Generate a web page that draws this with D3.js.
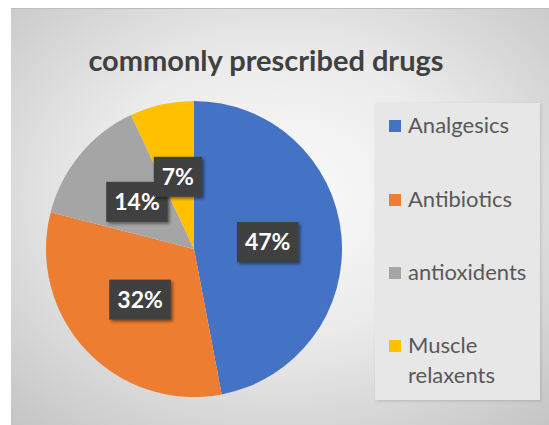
<!DOCTYPE html>
<html>
<head>
<meta charset="utf-8">
<script src="https://cdn.jsdelivr.net/npm/d3@7"></script>
<style>
  html, body { margin: 0; padding: 0; background: #ffffff; }
  svg { display: block; }
</style>
</head>
<body>
<svg id="chart" width="549" height="425"></svg>
<script>
// Share of commonly prescribed drug classes
const categories = ["Analgesics", "Antibiotics", "antioxidents", "Muscle relaxents"];
const shares = [47, 32, 14, 7];
const colors = ["#4472C4", "#ED7D31", "#A5A5A5", "#FFC000"];
const legendLines = [["Analgesics"], ["Antibiotics"], ["antioxidents"], ["Muscle", "relaxents"]];
const titleText = "commonly prescribed drugs";

const svg = d3.select("#chart");
const W = 549, H = 425;
const defs = svg.append("defs");

// Chart area background: soft radial grey gradient
const bg = defs.append("radialGradient").attr("id", "bgGrad")
  .attr("cx", "0.5").attr("cy", "0.45").attr("r", "0.75");
bg.append("stop").attr("offset", "0").attr("stop-color", "#fbfbfb");
bg.append("stop").attr("offset", "0.45").attr("stop-color", "#ebebeb");
bg.append("stop").attr("offset", "1").attr("stop-color", "#c4c4c4");

const shadow = defs.append("filter").attr("id", "lblShadow")
  .attr("x", "-30%").attr("y", "-30%").attr("width", "170%").attr("height", "170%");
shadow.append("feDropShadow").attr("dx", 2).attr("dy", 2).attr("stdDeviation", 1.8)
  .attr("flood-color", "#000").attr("flood-opacity", 0.45);

const boxShadow = defs.append("filter").attr("id", "boxShadow")
  .attr("x", "-10%").attr("y", "-10%").attr("width", "120%").attr("height", "120%");
boxShadow.append("feDropShadow").attr("dx", 1).attr("dy", 1).attr("stdDeviation", 1.5)
  .attr("flood-color", "#000").attr("flood-opacity", 0.15);

svg.append("rect").attr("x", 11).attr("y", 8).attr("width", W - 11).attr("height", H - 8)
  .attr("fill", "url(#bgGrad)");
svg.append("line").attr("x1", 11).attr("x2", W).attr("y1", 8.5).attr("y2", 8.5)
  .attr("stroke", "#bdbdbd").attr("stroke-width", 1);

// Title
svg.append("text").attr("x", 266).attr("y", 71)
  .attr("text-anchor", "middle")
  .attr("font-family", "Lato, 'Open Sans', sans-serif")
  .attr("font-weight", "bold").attr("font-size", 29)
  .attr("fill", "#404040")
  .text(titleText);

// Pie
const cx = 194, cy = 249, R = 148;
const pie = d3.pie().sort(null).value(d => d)(shares);
const arc = d3.arc().innerRadius(0).outerRadius(R);
const labelArc = d3.arc().innerRadius(0).outerRadius(R);

const g = svg.append("g").attr("transform", `translate(${cx},${cy})`);
g.selectAll("path.slice").data(pie).join("path")
  .attr("class", "slice")
  .attr("d", arc)
  .attr("fill", (d, i) => colors[i]);

// Data labels: dark boxes with white percentages at each slice centroid
const labels = g.selectAll("g.lbl").data(pie).join("g")
  .attr("class", "lbl")
  .attr("transform", d => {
    const [x, y] = labelArc.centroid(d);
    return `translate(${x},${y})`;
  });

labels.append("text")
  .attr("class", "val")
  .attr("text-anchor", "middle")
  .attr("dy", "0.36em")
  .attr("font-family", "Lato, 'Open Sans', sans-serif")
  .attr("font-weight", "bold").attr("font-size", 23)
  .attr("fill", "#ffffff")
  .text(d => d.data + "%");

labels.each(function() {
  const grp = d3.select(this);
  const t = grp.select("text.val");
  const bb = t.node().getBBox();
  const padX = 8, h = 40;
  grp.insert("rect", "text")
    .attr("x", bb.x - padX).attr("y", -h / 2)
    .attr("width", bb.width + padX * 2).attr("height", h)
    .attr("fill", "#404040")
    .attr("filter", "url(#lblShadow)");
});

// Legend
const lg = svg.append("g");
lg.append("rect").attr("x", 375).attr("y", 103).attr("width", 165).attr("height", 297)
  .attr("fill", "#e7e7e7").attr("filter", "url(#boxShadow)");

const rowY = [133, 207, 280, 353];
const items = lg.selectAll("g.item").data(categories).join("g")
  .attr("class", "item")
  .attr("transform", (d, i) => `translate(389,${rowY[i]})`);
items.append("rect").attr("x", 0).attr("y", -13).attr("width", 12).attr("height", 12)
  .attr("fill", (d, i) => colors[i]);
items.each(function(d, i) {
  const t = d3.select(this).append("text")
    .attr("x", 19).attr("y", 0)
    .attr("font-family", "Lato, 'Open Sans', sans-serif")
    .attr("font-size", 22)
    .attr("fill", "#595959");
  legendLines[i].forEach((line, k) => {
    t.append("tspan").attr("x", 19).attr("dy", k === 0 ? 0 : 30).text(line);
  });
});
</script>
</body>
</html>
